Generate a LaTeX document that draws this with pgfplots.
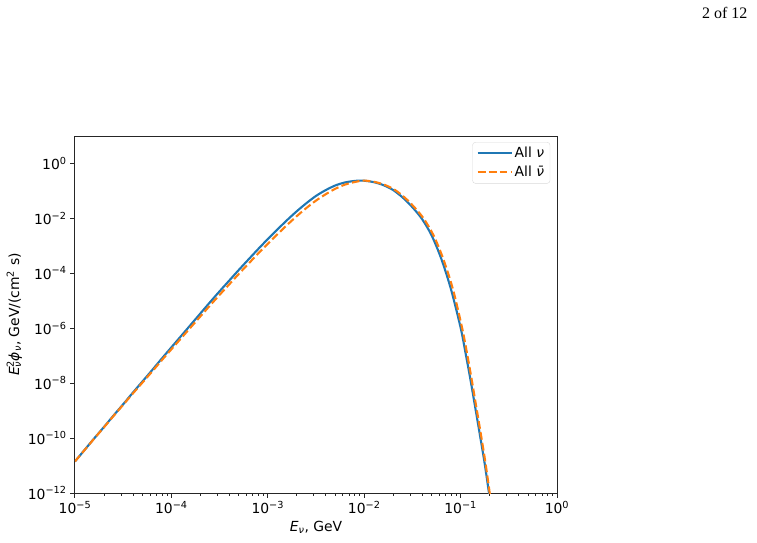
\documentclass[border=0pt]{standalone}
\usepackage{fontspec}
\setmainfont{DejaVu Sans}
\newfontfamily\pagefont{Liberation Serif}
\usepackage{pgfplots}
\pgfplotsset{compat=1.18}
\definecolor{mplblue}{HTML}{1F77B4}
\definecolor{mplorange}{HTML}{FF7F0E}

\newcommand{\tl}[1]{10\textsuperscript{#1}}

\pgfplotstableread{
x          y
1e-5       1.413e-11
1.259e-5   3.715e-11
1.585e-5   9.772e-11
1.995e-5   2.512e-10
2.512e-5   6.607e-10
3.162e-5   1.698e-9
3.981e-5   4.467e-9
5.012e-5   1.148e-8
6.310e-5   2.951e-8
7.943e-5   7.762e-8
1e-4       1.995e-7
1.259e-4   5.129e-7
1.585e-4   1.318e-6
1.995e-4   3.388e-6
2.512e-4   8.710e-6
3.162e-4   2.188e-5
3.981e-4   5.370e-5
5.012e-4   1.318e-4
6.310e-4   3.162e-4
7.943e-4   7.499e-4
1e-3       1.738e-3
1.259e-3   3.890e-3
1.585e-3   8.511e-3
1.995e-3   1.778e-2
2.512e-3   3.508e-2
3.162e-3   6.457e-2
3.981e-3   0.1047
5.012e-3   0.1549
6.310e-3   0.1995
7.943e-3   0.2265
9.120e-3   0.2333
1e-2       0.2312
1.259e-2   0.2046
1.585e-2   0.1589
1.995e-2   0.1059
2.512e-2   0.05623
3.162e-2   0.02512
3.981e-2   9.333e-3
5.012e-2   2.344e-3
6.310e-2   3.311e-4
7.943e-2   2.630e-5
0.1        1.047e-6
0.1122     1.318e-7
0.1259     1.479e-8
0.1413     1.413e-9
0.1585     1.318e-10
0.1778     1.175e-11
0.1995     7.413e-13
}\nutable

\pgfplotstableread{
x          y
1e-5       1.413e-11
1.259e-5   3.681e-11
1.585e-5   9.594e-11
1.995e-5   2.443e-10
2.512e-5   6.368e-10
3.162e-5   1.622e-9
3.981e-5   4.169e-9
5.012e-5   1.047e-8
6.310e-5   2.630e-8
7.943e-5   6.761e-8
1e-4       1.698e-7
1.259e-4   4.246e-7
1.585e-4   1.062e-6
1.995e-4   2.655e-6
2.512e-4   6.637e-6
3.162e-4   1.622e-5
3.981e-4   3.908e-5
5.012e-4   9.419e-5
6.310e-4   2.218e-4
7.943e-4   5.164e-4
1e-3       1.175e-3
1.259e-3   2.606e-3
1.585e-3   5.649e-3
1.995e-3   1.180e-2
2.512e-3   2.344e-2
3.162e-3   4.365e-2
3.981e-3   7.413e-2
5.012e-3   0.1175
6.310e-3   0.1660
7.943e-3   0.2065
9.550e-3   0.2328
1.047e-2   0.2312
1.318e-2   0.2046
1.660e-2   0.1589
2.089e-2   0.1059
2.630e-2   0.05623
3.311e-2   0.02512
4.169e-2   9.333e-3
5.248e-2   2.344e-3
6.607e-2   3.311e-4
8.318e-2   2.630e-5
0.1035     1.047e-6
0.1161     1.318e-7
0.1297     1.479e-8
0.1452     1.413e-9
0.1626     1.318e-10
0.1816     1.175e-11
0.2028     7.413e-13
}\nubartable

\begin{document}
\begin{tikzpicture}
\path[use as bounding box] (0pt,0pt) rectangle (757pt,-542pt);
\node[font=\pagefont\fontsize{16}{19}\selectfont, anchor=base east] at (751pt,-18pt) {2 of 12};
\begin{axis}[
    at={(75pt,-493pt)}, anchor=south west,
    scale only axis, width=482pt, height=357pt,
    xmode=log, ymode=log,
    xmin=1e-5, xmax=1, ymin=1e-12, ymax=9.77,
    axis line style={line width=1pt, black!85},
    tick style={black!85},
    major tick style={line width=1pt},
    minor tick style={line width=0.8pt},
    major tick length=4.9pt, minor tick length=2.8pt,
    tick align=outside,
    xtick pos=bottom, ytick pos=left,
    xtick={1e-5,1e-4,1e-3,1e-2,1e-1,1},
    xticklabels={\tl{−5},\tl{−4},\tl{−3},\tl{−2},\tl{−1},\tl{0}},
    minor xtick={2e-5,3e-5,4e-5,5e-5,6e-5,7e-5,8e-5,9e-5,
                 2e-4,3e-4,4e-4,5e-4,6e-4,7e-4,8e-4,9e-4,
                 2e-3,3e-3,4e-3,5e-3,6e-3,7e-3,8e-3,9e-3,
                 2e-2,3e-2,4e-2,5e-2,6e-2,7e-2,8e-2,9e-2,
                 0.2,0.3,0.4,0.5,0.6,0.7,0.8,0.9},
    ytick={1e-12,1e-10,1e-8,1e-6,1e-4,1e-2,1},
    yticklabels={\tl{−12},\tl{−10},\tl{−8},\tl{−6},\tl{−4},\tl{−2},\tl{0}},
    minor ytick={},
    ticklabel style={font=\fontsize{13.9}{16}\selectfont},
    label style={font=\fontsize{13.9}{16}\selectfont},
    xlabel={{\itshape E}\textsubscript{\itshape ν}, GeV},
    ylabel={{\itshape E}\rlap{\textsuperscript{2}}\textsubscript{\itshape ν}{\itshape ϕ}\textsubscript{\itshape ν}, GeV/(cm\textsuperscript{2} s)},
    ylabel style={yshift=-1pt},
    legend style={at={(0.986,0.983)}, anchor=north east,
        draw=black!15, rounded corners=3pt, fill=white,
        font=\fontsize{13.9}{16}\selectfont,
        inner xsep=4pt, inner ysep=3pt, row sep=3pt},
    legend cell align=left,
    legend image code/.code={
        \draw[#1] (0pt,0pt) -- (28pt,0pt);
        \path (-1pt,0pt) -- (33pt,0pt);},
]
\addplot[mplblue, line width=2.1pt, smooth] table[x=x, y=y] {\nutable};
\addlegendentry{All {\itshape ν}}
\addplot[mplorange, line width=2.1pt, smooth, dash pattern=on 7.7pt off 3.3pt] table[x=x, y=y] {\nubartable};
\addlegendentry{All {\itshape ν̄}}
\end{axis}
\end{tikzpicture}
\end{document}
